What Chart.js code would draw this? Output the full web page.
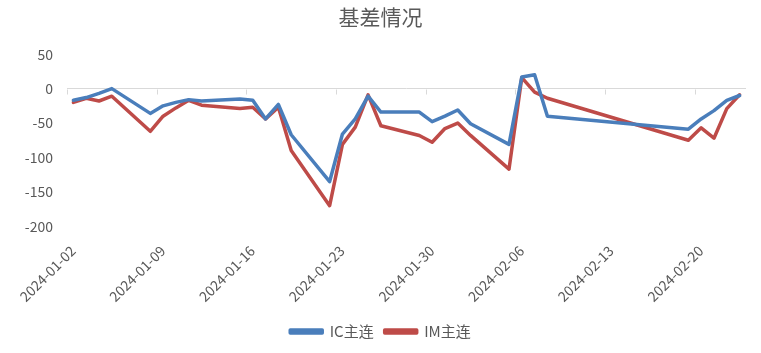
<!DOCTYPE html>
<html>
<head>
<meta charset="utf-8">
<script src="https://cdn.jsdelivr.net/npm/chart.js@4.4.1/dist/chart.umd.min.js"></script>
<style>
  html, body { margin: 0; padding: 0; background: #ffffff; }
  #wrap { width: 761px; height: 353px; position: relative; }
</style>
</head>
<body>
<div id="wrap"><canvas id="c"></canvas></div>
<script>
// ---- data ----
const dates = [
  '2024-01-02','2024-01-03','2024-01-04','2024-01-05',
  '2024-01-08','2024-01-09','2024-01-10','2024-01-11','2024-01-12',
  '2024-01-15','2024-01-16','2024-01-17','2024-01-18','2024-01-19',
  '2024-01-22','2024-01-23','2024-01-24','2024-01-25','2024-01-26',
  '2024-01-29','2024-01-30','2024-01-31','2024-02-01','2024-02-02',
  '2024-02-05','2024-02-06','2024-02-07','2024-02-08',
  '2024-02-19','2024-02-20','2024-02-21','2024-02-22','2024-02-23'
];
const icValues = [
  -17, -13, -7, 0,
  -36, -25, -20, -16, -18,
  -15, -17, -44, -23, -67,
  -135, -66, -44, -11, -34,
  -34, -48, -40, -31, -51,
  -81, 17, 20, -40,
  -59, -44, -32, -17, -10
];
const imValues = [
  -20, -14, -18, -11,
  -62, -40, -28, -17, -24,
  -29, -27, -44, -27, -90,
  -170, -81, -56, -9, -54,
  -68, -78, -58, -50, -68,
  -117, 16, -5, -14,
  -75, -57, -72, -29, -9
];
const tickLabels = ['2024-01-02','2024-01-09','2024-01-16','2024-01-23','2024-01-30','2024-02-06','2024-02-13','2024-02-20'];
const axisStart = '2024-01-02';
const axisEnd = '2024-02-24';
const seriesNames = ['IC主连', 'IM主连'];
const titleText = '基差情况';

// ---- helpers ----
const DAY = 86400000;
function dayOffset(s) {
  const [y, m, d] = s.split('-').map(Number);
  const [y0, m0, d0] = axisStart.split('-').map(Number);
  return Math.round((Date.UTC(y, m - 1, d) - Date.UTC(y0, m0 - 1, d0)) / DAY);
}
function offsetToLabel(v) {
  const [y0, m0, d0] = axisStart.split('-').map(Number);
  const dt = new Date(Date.UTC(y0, m0 - 1, d0) + Math.round(v) * DAY);
  const mm = String(dt.getUTCMonth() + 1).padStart(2, '0');
  const dd = String(dt.getUTCDate()).padStart(2, '0');
  return dt.getUTCFullYear() + '-' + mm + '-' + dd;
}
const toPoints = vals => dates.map((d, i) => ({ x: dayOffset(d) + 0.5, y: vals[i] }));

const FONT = '"Noto Sans CJK SC", "Noto Sans", sans-serif';
const TXT = '#595959';

const zeroTicks = {
  id: 'zeroTicks',
  beforeDatasetsDraw(chart) {
    const { ctx, scales: { x, y } } = chart;
    const y0 = Math.round(y.getPixelForValue(0)) + 0.5;
    ctx.save();
    ctx.strokeStyle = '#d9d9d9';
    ctx.lineWidth = 1;
    ctx.beginPath();
    x.ticks.forEach(t => {
      const px = Math.round(x.getPixelForValue(t.value)) + 0.5;
      ctx.moveTo(px, y0);
      ctx.lineTo(px, y0 + 5);
    });
    ctx.stroke();
    ctx.restore();
  }
};

new Chart(document.getElementById('c'), {
  type: 'line',
  data: {
    datasets: [
      { label: seriesNames[0], data: toPoints(icValues), borderColor: '#4A7EBB', backgroundColor: '#4A7EBB',
        borderWidth: 3.5, pointRadius: 0, tension: 0, borderJoinStyle: 'round', borderCapStyle: 'round' },
      { label: seriesNames[1], data: toPoints(imValues), borderColor: '#BE4B48', backgroundColor: '#BE4B48',
        borderWidth: 3.5, pointRadius: 0, tension: 0, borderJoinStyle: 'round', borderCapStyle: 'round' }
    ]
  },
  options: {
    responsive: true,
    maintainAspectRatio: false,
    animation: false,
    events: [],
    layout: { padding: { left: 0, right: 0, top: 4, bottom: 4 } },
    plugins: {
      title: {
        display: true, text: titleText, color: TXT,
        font: { family: FONT, size: 21, weight: 'normal' },
        padding: { top: 0, bottom: 25 }
      },
      legend: {
        display: true, position: 'bottom',
        labels: {
          color: TXT, font: { family: FONT, size: 15 },
          boxWidth: 32, boxHeight: 3, padding: 11
        }
      },
      tooltip: { enabled: false }
    },
    scales: {
      x: {
        type: 'linear',
        min: dayOffset(axisStart),
        max: dayOffset(axisEnd),
        grid: { display: false },
        border: { display: false },
        afterBuildTicks: s => { s.ticks = tickLabels.map(l => ({ value: dayOffset(l) })); },
        ticks: {
          color: TXT, font: { family: FONT, size: 14 },
          minRotation: 45, maxRotation: 45, autoSkip: false,
          padding: 8, labelOffset: 6,
          callback: v => offsetToLabel(v)
        }
      },
      y: {
        min: -200, max: 50,
        afterFit: s => { s.width = 67; },
        grid: {
          drawTicks: false,
          color: c => (c.tick && c.tick.value === 0) ? '#d9d9d9' : 'rgba(0,0,0,0)',
          lineWidth: 1
        },
        border: { display: false },
        ticks: {
          stepSize: 50, color: TXT, font: { family: FONT, size: 14 }, padding: 14
        }
      },
      yr: {
        position: 'right',
        display: true,
        afterFit: s => { s.width = 15; },
        grid: { display: false },
        border: { display: false },
        ticks: { display: false }
      }
    }
  },
  plugins: [zeroTicks]
});
</script>
</body>
</html>
